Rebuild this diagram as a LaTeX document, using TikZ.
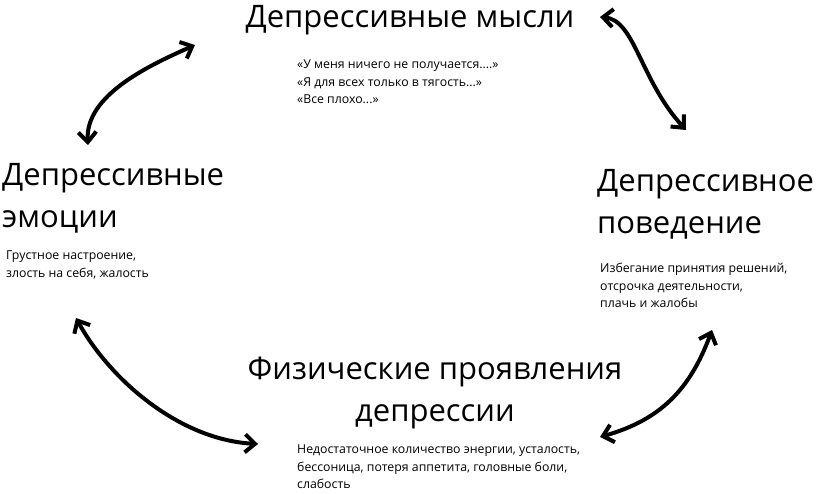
\documentclass[tikz,border=0pt]{standalone}
\usepackage{fontspec}
\setmainfont{Open Sans}
\usetikzlibrary{arrows.meta}
\begin{document}
\begin{tikzpicture}[x=1pt,y=-1pt,
  big/.style={font=\fontsize{31}{40}\selectfont, inner sep=0pt},
  small/.style={font=\fontsize{12.3}{17.5}\selectfont, inner sep=0pt, align=left, anchor=north west},
  cyc/.style={line width=4pt, line cap=round, {Straight Barb[length=10pt,width=18pt,line width=4pt]}-{Straight Barb[length=10pt,width=18pt,line width=4pt]}}]
\useasboundingbox (0,0) rectangle (831,494);
\node[big] (t) at (410,20) {Депрессивные мысли};
\node[small] (tq) at (297,60) {«У меня ничего не получается....»\\«Я для всех только в тягость...»\\«Все плохо...»};
\node[big, anchor=west, align=left, font=\fontsize{31}{42}\selectfont] (l) at (2,198) {Депрессивные\\эмоции};
\node[small] (lq) at (6,251) {Грустное настроение,\\злость на себя, жалость};
\node[big, anchor=west, align=left, font=\fontsize{31}{42}\selectfont] (r) at (597,204) {Депрессивное\\поведение};
\node[small] (rq) at (600,263) {Избегание принятия решений,\\отсрочка деятельности,\\плачь и жалобы};
\node[big, align=center, font=\fontsize{31}{42}\selectfont] (b) at (435,393) {Физические проявления\\депрессии};
\node[small] (bq) at (297,445) {Недостаточное количество энергии, усталость,\\бессоница, потеря аппетита, головные боли,\\слабость};
\coordinate (a1s) at (88,145); \coordinate (a1e) at (195,45);
\coordinate (a2s) at (600,17); \coordinate (a2e) at (686,130);
\coordinate (a3s) at (712,330); \coordinate (a3e) at (600,437);
\coordinate (a4s) at (76,318); \coordinate (a4e) at (258,444);
\draw[cyc] (a1s) .. controls (85,95) and (150,65) .. (a1e);
\draw[cyc] (a2s) .. controls (635,20) and (640,80) .. (a2e);
\draw[cyc] (a3s) .. controls (690,390) and (660,420) .. (a3e);
\draw[cyc] (a4s) .. controls (110,380) and (180,440) .. (a4e);
\end{tikzpicture}
\end{document}
